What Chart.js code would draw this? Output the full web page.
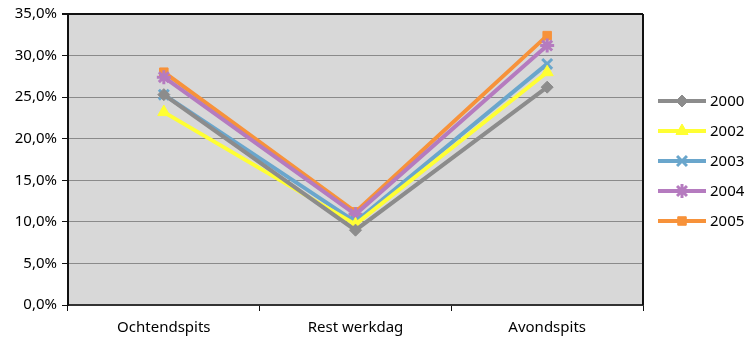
<!DOCTYPE html>
<html>
<head>
<meta charset="utf-8">
<script src="https://cdn.jsdelivr.net/npm/chart.js@4"></script>
<style>
  html, body { margin: 0; padding: 0; background: #fff; }
  #wrap { width: 748px; height: 337px; }
</style>
</head>
<body>
<div id="wrap"><canvas id="chart" width="748" height="337"></canvas></div>
<script>
// data (percent)
const categories = ["Ochtendspits", "Rest werkdag", "Avondspits"];
const years = ["2000", "2002", "2003", "2004", "2005"];
const s2000 = [25.3, 9.0, 26.2];
const s2002 = [23.2, 9.7, 28.0];
const s2003 = [25.3, 10.0, 29.0];
const s2004 = [27.4, 10.9, 31.2];
const s2005 = [28.0, 11.2, 32.4];
const yTicks = [0, 5, 10, 15, 20, 25, 30, 35];

const colors = ["#8c8c8c", "#ffff33", "#6aa6cc", "#b57bbf", "#f7923a"];
const markers = ["rectRot", "triangle", "crossRot", "star", "rect"];
const radii = [6, 7, 7, 7, 6];
const series = [s2000, s2002, s2003, s2004, s2005];

const pct = (v) => v.toFixed(1).replace(".", ",") + "%";
const markerBorder = (m) => (m === "crossRot" || m === "star" ? 3 : 1);

// grey plot background + black right edge
const plotBg = {
  id: "plotBg",
  beforeDraw(chart) {
    const { ctx, chartArea: a } = chart;
    ctx.save();
    ctx.fillStyle = "#d8d8d8";
    ctx.fillRect(a.left, a.top, a.right - a.left, a.bottom - a.top);
    ctx.restore();
  },
  afterDatasetsDraw(chart) {
    const { ctx, chartArea: a } = chart;
    ctx.save();
    ctx.strokeStyle = "#111";
    ctx.lineWidth = 2;
    ctx.beginPath();
    ctx.moveTo(a.right, a.top);
    ctx.lineTo(a.right, a.bottom);
    ctx.stroke();
    ctx.restore();
  }
};

// legend: line + marker, like the original
const sideLegend = {
  id: "sideLegend",
  afterDraw(chart) {
    const ctx = chart.ctx;
    ctx.save();
    years.forEach((y, i) => {
      const cy = 101 + i * 30;
      ctx.strokeStyle = colors[i];
      ctx.fillStyle = colors[i];
      ctx.lineWidth = 4;
      ctx.beginPath();
      ctx.moveTo(658, cy);
      ctx.lineTo(706, cy);
      ctx.stroke();
      ctx.lineWidth = markerBorder(markers[i]);
      Chart.helpers.drawPoint(ctx, {
        pointStyle: markers[i],
        radius: radii[i],
        rotation: 0,
        borderWidth: markerBorder(markers[i])
      }, 682, cy);
      ctx.fillStyle = "#000";
      ctx.font = "15px 'Noto Sans'";
      ctx.textBaseline = "middle";
      ctx.textAlign = "left";
      ctx.fillText(y, 710, cy + 1);
    });
    ctx.restore();
  }
};

new Chart(document.getElementById("chart"), {
  type: "line",
  data: {
    labels: categories,
    datasets: years.map((y, i) => ({
      label: y,
      data: series[i],
      borderColor: colors[i],
      backgroundColor: colors[i],
      borderWidth: 4,
      pointStyle: markers[i],
      pointRadius: radii[i],
      pointBorderWidth: markerBorder(markers[i]),
      tension: 0
    }))
  },
  options: {
    responsive: false,
    animation: false,
    layout: { padding: { top: 14, right: 105, left: 0, bottom: 0 } },
    plugins: {
      legend: { display: false },
      tooltip: { enabled: false }
    },
    scales: {
      x: {
        offset: true,
        grid: {
          offset: true,
          drawOnChartArea: false,
          drawTicks: true,
          tickLength: 6,
          color: "#111",
          lineWidth: 1
        },
        border: { color: "#333", width: 2 },
        ticks: {
          color: "#000",
          font: { family: "'Noto Sans'", size: 15 },
          padding: 8
        },
        afterFit(scale) { scale.height = 32; }
      },
      y: {
        min: 0,
        max: 35,
        afterBuildTicks(scale) { scale.ticks = yTicks.map((v) => ({ value: v })); },
        grid: {
          color: (c) => (c.tick && c.tick.value === 35 ? "#111" : "#8a8a8a"),
          lineWidth: (c) => (c.tick && c.tick.value === 35 ? 2 : 1),
          tickLength: 6,
          tickColor: "#111"
        },
        border: { color: "#111", width: 2 },
        ticks: {
          color: "#000",
          font: { family: "'Noto Sans'", size: 15 },
          padding: 5,
          callback: (v) => pct(v)
        },
        afterFit(scale) { scale.width = 68; }
      }
    }
  },
  plugins: [plotBg, sideLegend]
});
</script>
</body>
</html>
